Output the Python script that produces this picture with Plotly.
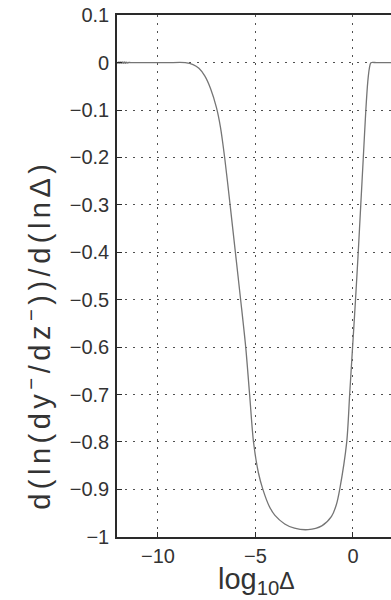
import plotly.graph_objects as go

# Curve samples: log10(Delta) and d(ln(dy-/dz-))/d(ln Delta)
log_delta = [-12.1, -12.05, -12.0, -11.95, -11.9, -11.85, -11.8, -11.75,
             -11.7, -11.65, -11.6, -11.55, -11.5, -11.4,
             -10.5, -9.5, -8.6, -8.2, -7.9, -7.6, -7.3, -7.0, -6.8,
             -6.58, -6.3, -6.03, -5.76, -5.5, -5.3, -5.1, -4.85, -4.62,
             -4.3, -4.0, -3.5, -3.0, -2.3, -1.6, -1.1, -0.85, -0.68,
             -0.32, -0.17, -0.02, 0.13, 0.27, 0.40, 0.53, 0.66, 0.76,
             0.84, 0.92, 1.2, 1.95]
slope = [0.0015, -0.0015, 0.0015, -0.0015, 0.0015, -0.0015, 0.0015, -0.0015,
         0.0015, -0.0015, 0.001, -0.001, 0.0005, 0.0,
         0.0, 0.0, 0.0, -0.004, -0.012, -0.028, -0.055, -0.095, -0.135,
         -0.2, -0.3, -0.4, -0.5, -0.6, -0.7, -0.8, -0.865, -0.9,
         -0.935, -0.955, -0.973, -0.982, -0.985, -0.977, -0.957, -0.932, -0.9,
         -0.8, -0.7, -0.6, -0.5, -0.4, -0.3, -0.2, -0.1, -0.04,
         -0.012, 0.0, 0.0, 0.0]

x_ticks = [-10, -5, 0]
x_tick_text = ["\u221210", "\u22125", "0"]
y_ticks = [0.1, 0, -0.1, -0.2, -0.3, -0.4, -0.5, -0.6, -0.7, -0.8, -0.9, -1]
y_tick_text = ["0.1", "0", "\u22120.1", "\u22120.2", "\u22120.3", "\u22120.4",
               "\u22120.5", "\u22120.6", "\u22120.7", "\u22120.8", "\u22120.9", "\u22121"]

FONT = "Liberation Sans, Arial, Helvetica, sans-serif"
TEXT = "#333333"
GRID = "#505050"
AXIS = "#2a2a2a"

fig = go.Figure()
fig.add_trace(go.Scatter(
    x=log_delta, y=slope, mode="lines",
    line=dict(color="#757575", width=1.3, shape="spline", smoothing=0.8),
    showlegend=False, hoverinfo="skip",
))

fig.update_layout(
    width=391, height=600,
    margin=dict(l=117, r=0, t=15, b=63),
    paper_bgcolor="white", plot_bgcolor="white",
    font=dict(family=FONT, color=TEXT),
    xaxis=dict(
        range=[-12.1, 1.95], tickvals=x_ticks, ticktext=x_tick_text,
        showgrid=True, gridcolor=GRID, griddash="2px,6px", gridwidth=1.4,
        zeroline=False, showline=True, linecolor=AXIS, linewidth=1.6,
        mirror=True, ticks="inside", ticklen=5, tickcolor=AXIS,
        tickfont=dict(size=20, family=FONT, color=TEXT),
        ticklabelstandoff=0,
    ),
    yaxis=dict(
        range=[-1.0005, 0.1005], tickvals=y_ticks, ticktext=y_tick_text,
        showgrid=True, gridcolor=GRID, griddash="2px,6px", gridwidth=1.4,
        zeroline=False, showline=True, linecolor=AXIS, linewidth=1.6,
        ticks="inside", ticklen=5, tickcolor=AXIS,
        tickfont=dict(size=20, family=FONT, color=TEXT),
        ticklabelstandoff=2,
    ),
    annotations=[
        dict(
            text="log<sub>10</sub><span style='font-size:23px'>\u0394</span>",
            xref="paper", yref="paper", x=0.508, y=-0.046,
            xanchor="center", yanchor="top", showarrow=False,
            font=dict(size=29, family=FONT, color=TEXT),
        ),
        dict(
            text="<span style='letter-spacing:4.5px'>d(ln(dy<sup>\u2212</sup>/dz<sup>\u2212</sup>))/d(ln\u0394)</span>",
            xref="paper", yref="paper", x=-0.289, y=0.387,
            xanchor="center", yanchor="middle", textangle=-90, showarrow=False,
            font=dict(size=29, family=FONT, color=TEXT),
        ),
    ],
)

fig.write_html("out.html")
